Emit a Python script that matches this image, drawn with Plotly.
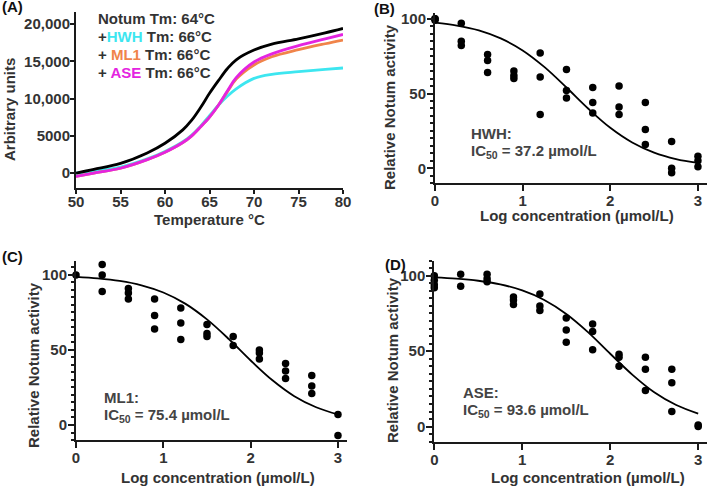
import plotly.graph_objects as go

W, H = 709, 486

# ---- panel A: thermal melt curves
temp = [50, 52, 55, 58, 60, 62, 63, 64, 65, 66, 67, 68, 70, 72, 75, 78, 80]
notum = [0, 500, 1300, 2700, 4000, 5800, 7100, 8800, 10700, 12400, 14000, 15200, 16500, 17300, 18000, 18800, 19400]
hwh = [0, 300, 800, 1900, 2900, 4200, 5100, 6300, 7700, 9100, 10300, 11300, 12700, 13250, 13600, 13900, 14100]
ml1 = [-450, 0, 650, 1800, 2800, 4100, 5000, 6200, 7500, 9100, 10900, 12600, 14500, 15600, 16550, 17350, 17850]
ase = [-450, 0, 650, 1800, 2800, 4100, 5000, 6200, 7500, 9100, 11000, 12800, 14900, 16000, 17100, 18000, 18600]
a_yticks = [0, 5000, 10000, 15000, 20000]
a_yticktext = ["0", "5000", "10,000", "15,000", "20,000"]

# ---- panels B-D: dose response
hwh_x = [0, 0, 0, 0.3, 0.3, 0.3, 0.6, 0.6, 0.6, 0.9, 0.9, 0.9, 1.2, 1.2, 1.2, 1.5, 1.5, 1.5,
         1.8, 1.8, 1.8, 2.1, 2.1, 2.1, 2.4, 2.4, 2.4, 2.7, 2.7, 2.7, 3.0, 3.0, 3.0]
hwh_y = [100, 100, 99, 97, 85, 82, 76, 72, 64, 65, 62, 60, 77, 61, 36, 66, 52, 47,
         54, 44, 37, 55, 41, 36, 44, 26, 16, 18, 0, -3, 8, 5, 1]

ml1_x = [0, 0.3, 0.3, 0.3, 0.6, 0.6, 0.6, 0.9, 0.9, 0.9, 1.2, 1.2, 1.2, 1.5, 1.5, 1.5,
         1.8, 1.8, 2.1, 2.1, 2.1, 2.4, 2.4, 2.4, 2.7, 2.7, 2.7, 3.0, 3.0]
ml1_y = [100, 107, 100, 89, 91, 88, 84, 84, 73, 64, 78, 68, 57, 67, 61, 59,
         59, 53, 50, 48, 44, 41, 36, 31, 33, 26, 21, 7, -7]

ase_x = [0, 0, 0, 0, 0.3, 0.3, 0.6, 0.6, 0.6, 0.9, 0.9, 0.9, 1.2, 1.2, 1.2, 1.5, 1.5, 1.5,
         1.8, 1.8, 1.8, 2.1, 2.1, 2.1, 2.4, 2.4, 2.4, 2.7, 2.7, 2.7, 3.0, 3.0]
ase_y = [100, 97, 94, 92, 101, 93, 101, 98, 96, 86, 84, 81, 88, 80, 77, 72, 64, 56,
         68, 63, 51, 48, 46, 40, 46, 38, 24, 38, 29, 10, 1, 0]

fit_x = [0, 0.25, 0.5, 0.75, 1.0, 1.25, 1.5, 1.75, 2.0, 2.25, 2.5, 2.75, 3.0]
hwh_fit = [97.4, 95.4, 92.2, 86.8, 78.8, 67.6, 54.0, 39.8, 27.1, 17.3, 10.5, 6.2, 3.6]
ml1_fit = [98.7, 97.7, 96.0, 93.1, 88.3, 80.9, 70.4, 57.3, 43.0, 29.8, 19.2, 11.8, 7.0]
ase_fit = [98.9, 98.1, 96.7, 94.3, 90.3, 84.0, 74.7, 62.5, 48.3, 34.5, 22.8, 14.3, 8.6]


def px(x):
    return x / W


def py(y):
    return 1 - y / H


INK = "#1a1a1a"
TXT = "#333333"
FONT = "Liberation Sans"

fig = go.Figure()

# panel A
for name, vals, col in [("HWH", hwh, "#3de6f0"), ("ML1", ml1, "#f0844a"),
                        ("ASE", ase, "#e424e0"), ("Notum", notum, "#000000")]:
    fig.add_trace(go.Scatter(x=temp, y=vals, mode="lines", name=name,
                             line=dict(color=col, width=2.8, shape="spline"),
                             xaxis="x", yaxis="y", showlegend=False))

# panels B-D
panels = [("x2", "y2", hwh_x, hwh_y, hwh_fit),
          ("x3", "y3", ml1_x, ml1_y, ml1_fit),
          ("x4", "y4", ase_x, ase_y, ase_fit)]
for xa, ya, xs, ys, fit in panels:
    fig.add_trace(go.Scatter(x=fit_x, y=fit, mode="lines",
                             line=dict(color="#000", width=1.8, shape="spline"),
                             xaxis=xa, yaxis=ya, showlegend=False))
    fig.add_trace(go.Scatter(x=xs, y=ys, mode="markers",
                             marker=dict(color="#000", size=7.5),
                             xaxis=xa, yaxis=ya, showlegend=False, cliponaxis=False))

tickfont = dict(family=FONT, size=15, color=TXT, weight="bold")
base = dict(showline=True, linecolor=INK, linewidth=2, ticks="outside", tickwidth=2,
            ticklen=6, tickcolor=INK, showgrid=False, zeroline=False, tickfont=tickfont,
            automargin=False)

minor = dict(dtick=5, ticks="outside", ticklen=3.5, tickwidth=1.5, tickcolor=INK, showgrid=False)

dose_x = dict(base, range=[0, 3.1], tickvals=[0, 1, 2, 3], ticklabelstandoff=-3)
dose_y = dict(base, tickvals=[0, 50, 100], minor=minor, ticklabelstandoff=-2)

fig.update_layout(
    width=W, height=H, margin=dict(l=0, r=0, t=0, b=0),
    plot_bgcolor="white", paper_bgcolor="white",
    xaxis=dict(base, domain=[px(76), px(343)], range=[50, 80], tickvals=[50, 55, 60, 65, 70, 75, 80],
               ticklen=4, ticklabelstandoff=-5, anchor="y"),
    yaxis=dict(base, domain=[py(188), py(11.7)], range=[-2000, 21650], tickvals=a_yticks,
               ticktext=a_yticktext, ticklen=4, ticklabelstandoff=-3, anchor="x"),
    xaxis2=dict(dose_x, domain=[px(435), px(706.7)], anchor="y2"),
    yaxis2=dict(dose_y, domain=[py(183.3), py(12.7)], range=[-10, 104], anchor="x2"),
    xaxis3=dict(dose_x, domain=[px(76), px(346.7)], anchor="y3"),
    yaxis3=dict(dose_y, domain=[py(440), py(260.7)], range=[-10, 109.5], anchor="x3"),
    xaxis4=dict(dose_x, domain=[px(434.3), px(707)], anchor="y4"),
    yaxis4=dict(dose_y, domain=[py(441.7), py(260.7)], range=[-10, 110], anchor="x4"),
)

anns = []


def note(text, x, y, size=15, angle=0, xanchor="center", color=TXT):
    anns.append(dict(text=text, x=px(x), y=py(y), xref="paper", yref="paper",
                     showarrow=False, textangle=angle, xanchor=xanchor, yanchor="middle",
                     font=dict(family=FONT, size=size, color=color, weight="bold")))


# panel letters
note("(A)", 0, 6.5, xanchor="left", color="#111")
note("(B)", 372, 8, xanchor="left", color="#111")
note("(C)", 0, 256, xanchor="left", color="#111")
note("(D)", 383, 264, xanchor="left", color="#111")

# axis titles
note("Temperature °C", 209, 220)
note("Arbitrary units", 10, 110, angle=-90)
note("Log concentration (µmol/L)", 577, 215.5)
note("Relative Notum activity", 390, 107, angle=-90)
note("Log concentration (µmol/L)", 218, 477)
note("Relative Notum activity", 33, 365, angle=-90)
note("Log concentration (µmol/L)", 588, 477)
note("Relative Notum activity", 392, 360, angle=-90)

# panel A legend text
note("Notum Tm: 64°C", 96, 19, xanchor="left")
note("+<span style='color:#3de6f0'>HWH</span> Tm: 66°C", 96, 36.7, xanchor="left")
note("+ <span style='color:#f0844a'>ML1</span> Tm: 66°C", 96, 54.3, xanchor="left")
note("+ <span style='color:#e424e0'>ASE</span> Tm: 66°C", 96, 72, xanchor="left")

# IC50 labels
note("HWH:", 469, 133, xanchor="left", color="#444")
note("IC<sub>50</sub> = 37.2 µmol/L", 469, 151, xanchor="left", color="#444")
note("ML1:", 102, 397, xanchor="left", color="#444")
note("IC<sub>50</sub> = 75.4 µmol/L", 102, 415, xanchor="left", color="#444")
note("ASE:", 461, 392, xanchor="left", color="#444")
note("IC<sub>50</sub> = 93.6 µmol/L", 461, 410, xanchor="left", color="#444")

fig.update_layout(annotations=anns)
# page body has a default 8px margin; drop it so the figure sits at the corner
fig.write_html("out.html", config={"displayModeBar": False},
               post_script="document.body.style.margin='0';")
